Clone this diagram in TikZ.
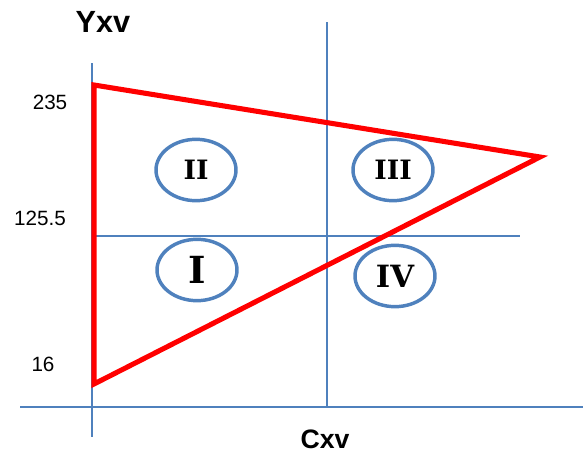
\documentclass[tikz,border=0pt]{standalone}
\usepackage{fontspec}
\setmainfont{Liberation Sans}
\newfontfamily\romfont{DejaVu Serif}
\usetikzlibrary{shapes.geometric}
\definecolor{axeblue}{HTML}{4F81BD}
\tikzset{
  axe/.style={axeblue,line width=1.5},
  zone/.style={ellipse,draw=axeblue,line width=2.6,minimum width=60,minimum height=46,inner sep=0pt},
  graduation/.style={font=\fontsize{15.5}{17}\selectfont}
}
\begin{document}
\begin{tikzpicture}[x=0.75pt,y=-0.75pt]
			\useasboundingbox (0,0) rectangle (583,452);
			\coordinate (ybas) at (92,437);
			\coordinate (yhaut) at (92,63);
			\coordinate (xgauche) at (20,407);
			\coordinate (xdroite) at (583,407);
			\coordinate (mbas) at (327,407);
			\coordinate (mhaut) at (327,22);
			\coordinate (hgauche) at (92,236);
			\coordinate (hdroite) at (520,236);
			\draw[axe] (ybas) -- (yhaut);%axe vertical
			\draw[axe] (xgauche) -- (xdroite);%axe horizontal
			\draw[axe] (mbas) -- (mhaut);
			\draw[axe] (hgauche) -- (hdroite);
			
			\coordinate (A) at (94,85);
			\coordinate (B) at (540,157);
			\coordinate (C) at (94,384);
			\draw[red,line width=3.8,line join=miter] (A) -- (B) -- (C) -- cycle;%triangle
			
			\node[zone,font=\romfont\bfseries\fontsize{20}{20}\selectfont] (q2) at (196,170) {II};
			\node[zone,font=\romfont\bfseries\fontsize{20}{20}\selectfont] (q3) at (393,170) {III};
			\node[zone,font=\romfont\bfseries\fontsize{28}{28}\selectfont] (q1) at (197,270) {I};
			\node[zone,font=\romfont\bfseries\fontsize{23}{23}\selectfont] (q4) at (395,276) {IV};
			
			\node[font=\bfseries\fontsize{23}{26}\selectfont] (yxv) at (103,22) {Yxv};
			\node[font=\bfseries\fontsize{20}{22}\selectfont] (cxv) at (325,439) {Cxv};
			\node[graduation] (g235) at (50,102) {235};
			\node[graduation] (g125) at (40,218) {125.5};
			\node[graduation] (g16) at (43,364) {16};
		\end{tikzpicture}
\end{document}
